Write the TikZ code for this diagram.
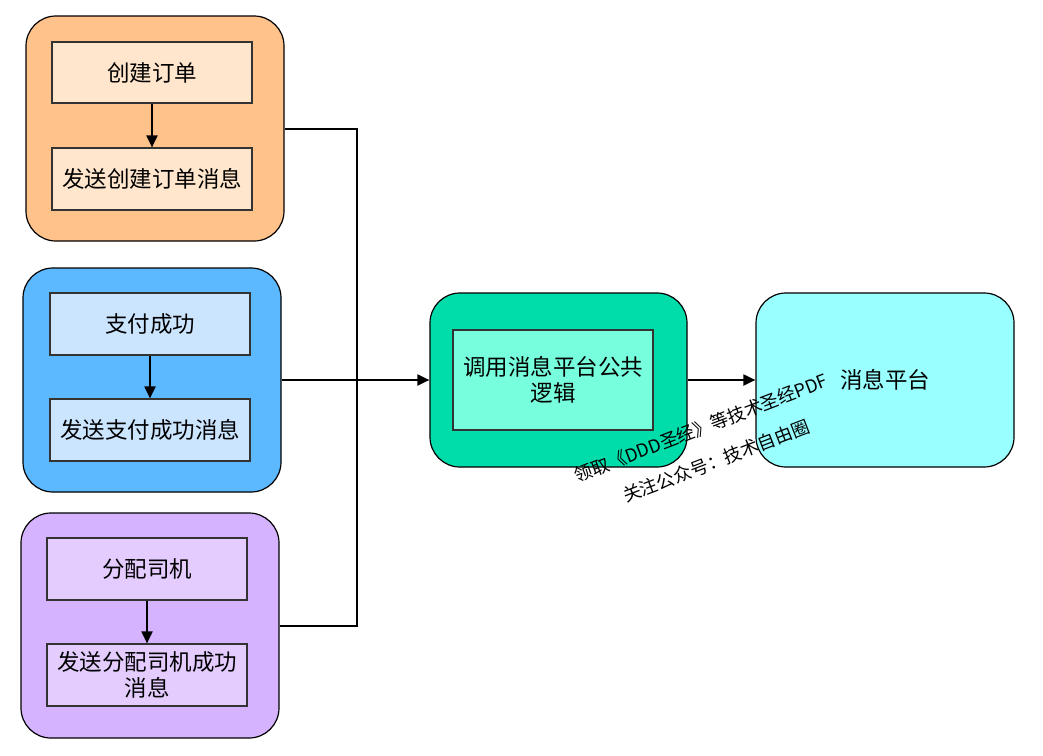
\documentclass[tikz,border=0pt]{standalone}
\usepackage{fontspec}
\setmainfont{Noto Sans CJK SC}
\usetikzlibrary{arrows.meta}
\definecolor{orOut}{HTML}{FFC28A}
\definecolor{orIn}{HTML}{FFE6CC}
\definecolor{blOut}{HTML}{5CB8FF}
\definecolor{blIn}{HTML}{CCE5FF}
\definecolor{puOut}{HTML}{D5B3FF}
\definecolor{puIn}{HTML}{E5CCFF}
\definecolor{grOut}{HTML}{00DDAA}
\definecolor{grIn}{HTML}{77FFDD}
\definecolor{cyOut}{HTML}{99FFFF}
\tikzset{
  outerbox/.style={draw=black, line width=1.2pt, rounded corners=30pt, inner sep=0pt},
  innerbox/.style={draw=black!80, line width=1.2pt, inner sep=0pt, align=center, font=\fontsize{22.5}{26}\selectfont},
  link/.style={line width=2pt, draw=black},
  arr/.style={link, -{Triangle[length=12pt,width=11pt]}},
  wm/.style={rotate=21, font=\fontsize{18}{21}\selectfont, inner sep=0pt}
}
\begin{document}
\begin{tikzpicture}[x=1pt,y=-1pt]
\useasboundingbox (0,0) rectangle (1043,755);
% orange group
\node[outerbox, fill=orOut, minimum width=258pt, minimum height=225pt] (og) at (155,128.5) {};
\node[innerbox, fill=orIn, minimum width=200pt, minimum height=61pt] (o1) at (152,72.5) {创建订单};
\node[innerbox, fill=orIn, minimum width=200pt, minimum height=62pt] (o2) at (152,179) {发送创建订单消息};
\draw[arr] (o1) -- (o2);
% blue group
\node[outerbox, fill=blOut, minimum width=258pt, minimum height=224pt] (bg) at (152,380) {};
\node[innerbox, fill=blIn, minimum width=200pt, minimum height=62pt] (b1) at (150,324) {支付成功};
\node[innerbox, fill=blIn, minimum width=200pt, minimum height=62pt] (b2) at (150,430) {发送支付成功消息};
\draw[arr] (b1) -- (b2);
% purple group
\node[outerbox, fill=puOut, minimum width=258pt, minimum height=225pt] (pg) at (150,625.5) {};
\node[innerbox, fill=puIn, minimum width=200pt, minimum height=62pt] (p1) at (147,569) {分配司机};
\node[innerbox, fill=puIn, minimum width=200pt, minimum height=62pt] (p2) at (147,675) {发送分配司机成功\\消息};
\draw[arr] (p1) -- (p2);
% green
\node[outerbox, fill=grOut, minimum width=257pt, minimum height=174pt] (gg) at (558.5,380) {};
\node[innerbox, fill=grIn, minimum width=200pt, minimum height=100pt] (g1) at (553,380) {调用消息平台公共\\逻辑};
% cyan
\node[outerbox, fill=cyOut, minimum width=258pt, minimum height=174pt, font=\fontsize{22.5}{26}\selectfont] (cy) at (885,380) {消息平台};
% connectors
\coordinate (j) at (357,380);
\draw[link] (og.east) -| (j);
\draw[link] (pg.east) -| (j);
\draw[arr] (bg.east) -- (gg.west);
\draw[arr] (gg.east) -- (cy.west);
% watermark
\node[wm] (w1) at (701,428) {领取《DDD圣经》等技术圣经PDF};
\node[wm] (w2) at (716,461) {关注公众号：技术自由圈};
\end{tikzpicture}
\end{document}
